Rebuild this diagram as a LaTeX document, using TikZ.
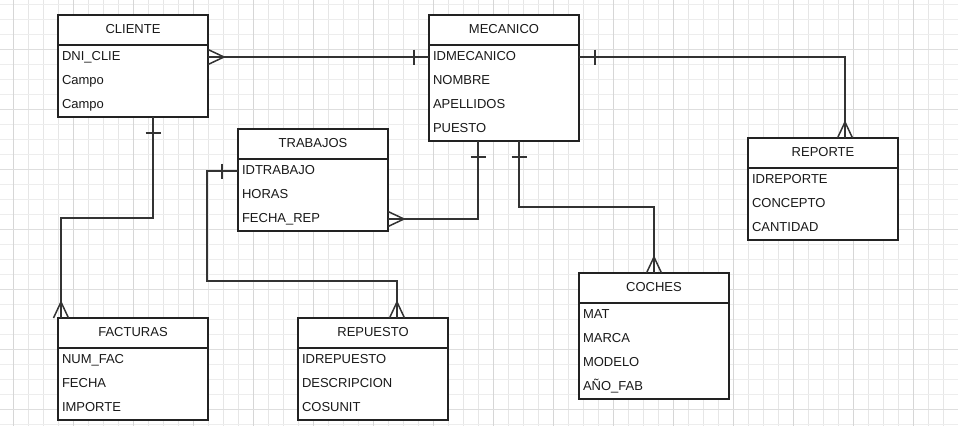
\documentclass[tikz,border=0pt]{standalone}
\usepackage{fontspec}
\setmainfont{Liberation Sans}
\usetikzlibrary{positioning}
\definecolor{linea}{HTML}{222222}
\definecolor{conector}{HTML}{333333}
\definecolor{rejilla}{HTML}{E6E6E6}
\definecolor{rejillamayor}{HTML}{D6D6D6}

\begin{document}
\begin{tikzpicture}[x=1pt, y=1pt,
  every node/.style={font=\fontsize{13}{15}\selectfont, text=black!90},
  tabla/.style={draw=linea, line width=1.6pt, fill=white, minimum width=150pt,
    minimum height=30pt, inner sep=0pt, outer sep=0pt, text height=9.5pt, text depth=3.5pt},
  campo/.style={fill=white, minimum width=150pt, minimum height=24pt, inner xsep=4pt,
    inner ysep=0pt, outer sep=0pt, text width=142pt, align=left, text height=9.5pt, text depth=3.5pt},
  caja/.style={draw=linea, line width=1.6pt},
  rel/.style={draw=conector, line width=1.5pt},
  malla/.style={draw=rejilla, line width=0.8pt},
  mallah/.style={draw=rejilla!70, line width=0.8pt},
  mallamayor/.style={draw=rejillamayor, line width=0.8pt}]
  \useasboundingbox (0,0) rectangle (958,-426);
  \fill[white] (0,0) rectangle (958,-426);
  % rejilla de fondo
  \foreach \i in {0,...,62} \draw[malla] (13.7+15*\i,0) -- (13.7+15*\i,-426);
  \foreach \i in {0,...,28} \draw[mallah] (0,-4-15*\i) -- (958,-4-15*\i);
  \foreach \i in {0,...,15} \draw[mallamayor] (13.7+60*\i,0) -- (13.7+60*\i,-426);
  \foreach \i in {0,...,6} \draw[mallah, draw=rejillamayor!80] (0,-49-60*\i) -- (958,-49-60*\i);

  % CLIENTE
  \node[tabla, anchor=north west] (cliente) at (58,-15) {CLIENTE};
  \node[campo, below=0pt of cliente] (cliente1) {DNI\_CLIE};
  \node[campo, below=0pt of cliente1] (cliente2) {Campo};
  \node[campo, below=0pt of cliente2] (cliente3) {Campo};
  \draw[caja] (cliente.north west) rectangle (cliente3.south east)
    (cliente.south west) -- (cliente.south east);

  % MECANICO
  \node[tabla, anchor=north west] (mecanico) at (429,-15) {MECANICO};
  \node[campo, below=0pt of mecanico] (mecanico1) {IDMECANICO};
  \node[campo, below=0pt of mecanico1] (mecanico2) {NOMBRE};
  \node[campo, below=0pt of mecanico2] (mecanico3) {APELLIDOS};
  \node[campo, below=0pt of mecanico3] (mecanico4) {PUESTO};
  \draw[caja] (mecanico.north west) rectangle (mecanico4.south east)
    (mecanico.south west) -- (mecanico.south east);

  % TRABAJOS
  \node[tabla, anchor=north west] (trabajos) at (238,-129) {TRABAJOS};
  \node[campo, below=0pt of trabajos] (trabajos1) {IDTRABAJO};
  \node[campo, below=0pt of trabajos1] (trabajos2) {HORAS};
  \node[campo, below=0pt of trabajos2] (trabajos3) {FECHA\_REP};
  \draw[caja] (trabajos.north west) rectangle (trabajos3.south east)
    (trabajos.south west) -- (trabajos.south east);

  % REPORTE
  \node[tabla, anchor=north west] (reporte) at (748,-138) {REPORTE};
  \node[campo, below=0pt of reporte] (reporte1) {IDREPORTE};
  \node[campo, below=0pt of reporte1] (reporte2) {CONCEPTO};
  \node[campo, below=0pt of reporte2] (reporte3) {CANTIDAD};
  \draw[caja] (reporte.north west) rectangle (reporte3.south east)
    (reporte.south west) -- (reporte.south east);

  % COCHES
  \node[tabla, anchor=north west] (coches) at (579,-273) {COCHES};
  \node[campo, below=0pt of coches] (coches1) {MAT};
  \node[campo, below=0pt of coches1] (coches2) {MARCA};
  \node[campo, below=0pt of coches2] (coches3) {MODELO};
  \node[campo, below=0pt of coches3] (coches4) {AÑO\_FAB};
  \draw[caja] (coches.north west) rectangle (coches4.south east)
    (coches.south west) -- (coches.south east);

  % FACTURAS
  \node[tabla, anchor=north west] (facturas) at (58,-318) {FACTURAS};
  \node[campo, below=0pt of facturas] (facturas1) {NUM\_FAC};
  \node[campo, below=0pt of facturas1] (facturas2) {FECHA};
  \node[campo, below=0pt of facturas2] (facturas3) {IMPORTE};
  \draw[caja] (facturas.north west) rectangle (facturas3.south east)
    (facturas.south west) -- (facturas.south east);

  % REPUESTO
  \node[tabla, anchor=north west] (repuesto) at (298,-318) {REPUESTO};
  \node[campo, below=0pt of repuesto] (repuesto1) {IDREPUESTO};
  \node[campo, below=0pt of repuesto1] (repuesto2) {DESCRIPCION};
  \node[campo, below=0pt of repuesto2] (repuesto3) {COSUNIT};
  \draw[caja] (repuesto.north west) rectangle (repuesto3.south east)
    (repuesto.south west) -- (repuesto.south east);

  % extremos de las relaciones
  \coordinate (pcliente) at ([xshift=20pt]cliente3.south);
  \coordinate (pfacturas) at ([xshift=-72pt]facturas.north);
  \coordinate (preporte) at ([xshift=22pt]reporte.north);
  \coordinate (ptrabajos) at ([xshift=-26pt]mecanico4.south);
  \coordinate (pcoches) at ([xshift=15pt]mecanico4.south);
  \coordinate (prepuesto) at ([xshift=24pt]repuesto.north);

  % CLIENTE - MECANICO
  \draw[rel] (cliente1.east) -- (mecanico1.west);
  \draw[rel] (cliente1.east) ++(0,7.5) -- ++(16,-7.5) -- ++(-16,-7.5);
  \draw[rel] (mecanico1.west) ++(-15,7.5) -- ++(0,-15);

  % MECANICO - REPORTE
  \draw[rel] (mecanico1.east) -| (preporte);
  \draw[rel] (mecanico1.east) ++(16,7.5) -- ++(0,-15);
  \draw[rel] (preporte) ++(-7.5,0) -- ++(7.5,16) -- ++(7.5,-16);

  % MECANICO - TRABAJOS
  \draw[rel] (ptrabajos) |- (trabajos3.east);
  \draw[rel] (ptrabajos) ++(-7.5,-16) -- ++(15,0);
  \draw[rel] (trabajos3.east) ++(0,7.5) -- ++(16,-7.5) -- ++(-16,-7.5);

  % MECANICO - COCHES
  \draw[rel] (pcoches) -- ++(0,-66) -| (coches.north);
  \draw[rel] (pcoches) ++(-7.5,-16) -- ++(15,0);
  \draw[rel] (coches.north) ++(-7.5,0) -- ++(7.5,16) -- ++(7.5,-16);

  % CLIENTE - FACTURAS
  \draw[rel] (pcliente) -- ++(0,-101) -| (pfacturas);
  \draw[rel] (pcliente) ++(-7.5,-16) -- ++(15,0);
  \draw[rel] (pfacturas) ++(-7.5,0) -- ++(7.5,16) -- ++(7.5,-16);

  % TRABAJOS - REPUESTO
  \draw[rel] (trabajos1.west) -- ++(-31,0) -- ++(0,-110) -| (prepuesto);
  \draw[rel] (trabajos1.west) ++(-16,7.5) -- ++(0,-15);
  \draw[rel] (prepuesto) ++(-7.5,0) -- ++(7.5,16) -- ++(7.5,-16);
\end{tikzpicture}
\end{document}
